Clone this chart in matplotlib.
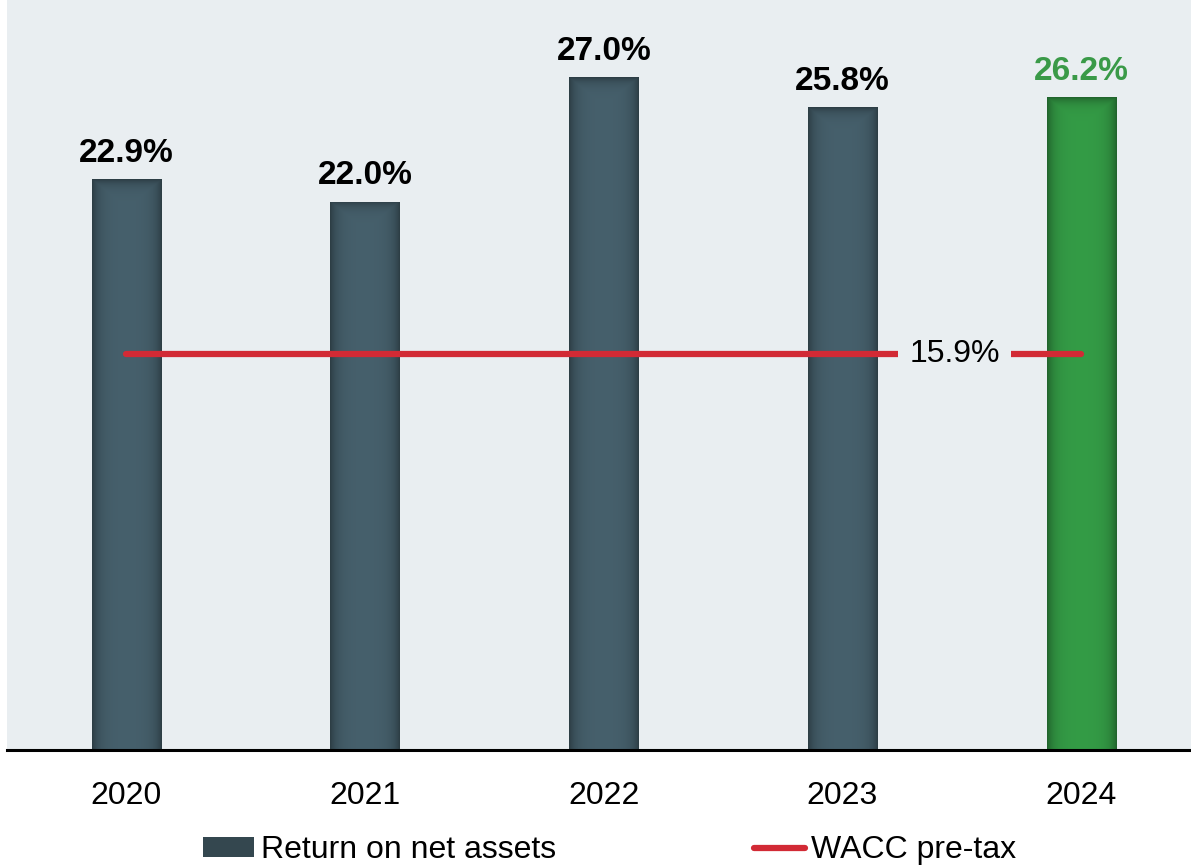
import numpy as np
import matplotlib
matplotlib.use("Agg")
import matplotlib.pyplot as plt
from matplotlib.patches import Rectangle
from matplotlib.lines import Line2D

years = ["2020", "2021", "2022", "2023", "2024"]
rona = [22.9, 22.0, 27.0, 25.8, 26.2]
wacc = 15.9
labels = ["22.9%", "22.0%", "27.0%", "25.8%", "26.2%"]

plt.rcParams['font.family'] = ['Liberation Sans', 'DejaVu Sans']

BG = "#E9EEF1"
DARK = np.array([0x46, 0x60, 0x6C]) / 255
GREEN = np.array([0x34, 0x9C, 0x46]) / 255
RED = "#D22A35"
GREEN_TXT = "#3A9A48"

fig = plt.figure(figsize=(11.91, 8.66), dpi=100)
ax = fig.add_axes([7/1191, 116/866, 1 - 7/1191, 750/866])
ax.set_facecolor(BG)
x = np.arange(len(years))
ax.set_xlim(-0.5, 4.46)
ax.set_ylim(0, 30.1)

cols = [DARK, DARK, DARK, DARK, GREEN]
bars = ax.bar(x, rona, width=0.29, color=[tuple(c) for c in cols], zorder=2)

fig.canvas.draw()
for rect, c in zip(bars, cols):
    x0, w, h = rect.get_x(), rect.get_width(), rect.get_height()
    p0 = ax.transData.transform((x0, 0))
    p1 = ax.transData.transform((x0 + w, h))
    wpx = max(int(round(p1[0] - p0[0])), 2)
    hpx = max(int(round(p1[1] - p0[1])), 2)
    xx = np.arange(wpx) + 0.5
    yy = np.arange(hpx) + 0.5
    dx = np.minimum(xx, wpx - xx)[None, :]
    dy = yy[:, None]
    d = np.minimum(dx, dy * 1.2)
    f = 1 - 0.38 * np.exp(-d / 7.0)
    img = np.clip(c[None, None, :] * f[:, :, None], 0, 1)
    im = ax.imshow(img, extent=(x0, x0 + w, 0, h), aspect='auto', zorder=2.5,
                   interpolation='bilinear')
    im.set_clip_path(rect)

for xi, v, lab, c in zip(x, rona, labels, cols):
    ax.annotate(lab, (xi, v), xytext=(0, 7.5), textcoords='offset points',
                ha='center', va='bottom', fontsize=24, fontweight='bold',
                color=GREEN_TXT if c is GREEN else "black")

ax.plot([x[0], x[-1]], [wacc, wacc], color=RED, lw=4.5, solid_capstyle='round', zorder=3)
ax.text(3.47, wacc, f"{wacc}%", ha='center', va='center', fontsize=23, color='black',
        zorder=4, bbox=dict(facecolor=BG, edgecolor='none', pad=8))

for s in ['top', 'right', 'left']:
    ax.spines[s].set_visible(False)
ax.spines['bottom'].set_linewidth(2.2)
ax.spines['bottom'].set_color('black')
ax.set_yticks([])
ax.set_xticks(x)
ax.set_xticklabels(years, fontsize=23)
ax.tick_params(axis='x', length=0, pad=22)

handles = [Rectangle((0, 0), 1, 1, facecolor="#34474F", edgecolor='none'),
           Line2D([0], [0], color=RED, lw=4.5, solid_capstyle='round')]
fig.legend(handles, ["Return on net assets", "WACC pre-tax"], loc='center',
           bbox_to_anchor=(0.512, 0.018), ncol=2, frameon=False, fontsize=23,
           handlelength=1.6, handleheight=0.55, handletextpad=0.2, columnspacing=6.2,
           borderaxespad=0, borderpad=0)

fig.savefig("out.png", dpi=100)
